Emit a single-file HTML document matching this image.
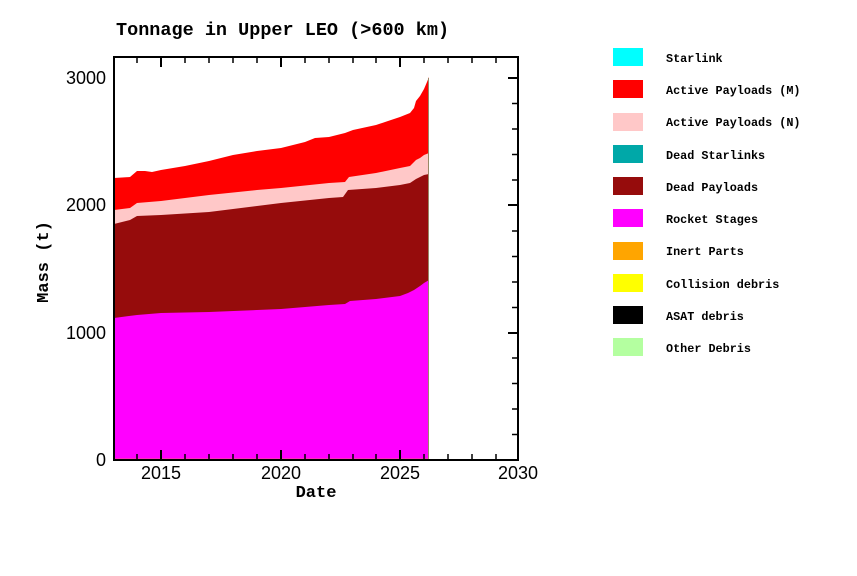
<!DOCTYPE html>
<html><head><meta charset="utf-8"><style>body{margin:0;background:#fff}svg{display:block}</style></head><body>
<svg width="857" height="576" xmlns="http://www.w3.org/2000/svg">
<rect width="857" height="576" fill="#fff"/>
<text x="116" y="35" font-family="Liberation Mono, monospace" font-size="18.5" font-weight="bold">Tonnage in Upper LEO (&gt;600 km)</text>
<polygon fill="#ff0000" points="114,460 114,178 130,177 137,171 145,171 152,172 161,170 185,166 209,161 233,155 257,151 281,148 305,142 315,138 329,137 345,133 353,130 376,125 388,121 400,117 410,113 414,108 416,101 420,96 424,89 427,82 429,77 429,460"/>
<polygon fill="#ffc8c8" points="114,460 114,210 130,208 137,203 161,201 209,195 257,190 281,188 329,183 345,182 349,177 376,173 400,168 410,166 416,160 420,158 424,155 429,153 429,460"/>
<polygon fill="#960c0c" points="114,460 114,224 130,220 137,216 161,215 209,212 257,206 281,203 329,198 343,197 348,190 376,188 400,185 410,183 416,179 420,177 424,175 429,174 429,460"/>
<polygon fill="#ff00ff" points="114,460 114,318 137,315 161,313 209,312 257,310 281,309 305,307 329,305 345,304 350,301 376,299 400,296 408,293 414,290 420,286 424,283 429,280 429,460"/>
<line x1="114" y1="459.5" x2="429" y2="459.5" stroke="#ffa500" stroke-width="1.5"/>
<line x1="428.5" y1="78" x2="428.5" y2="460" stroke="#986" stroke-width="1"/>
<rect x="114" y="57" width="404" height="403" fill="none" stroke="#000" stroke-width="2"/>
<g stroke="#000" stroke-width="2">
<line x1="508" y1="333" x2="518" y2="333"/>
<line x1="508" y1="205" x2="518" y2="205"/>
<line x1="508" y1="78" x2="518" y2="78"/>
</g>
<g stroke="#000" stroke-width="1.5">
<line x1="512" y1="434.5" x2="518" y2="434.5"/><line x1="512" y1="409" x2="518" y2="409"/><line x1="512" y1="383.5" x2="518" y2="383.5"/><line x1="512" y1="358" x2="518" y2="358"/>
<line x1="512" y1="307.5" x2="518" y2="307.5"/><line x1="512" y1="282" x2="518" y2="282"/><line x1="512" y1="256.5" x2="518" y2="256.5"/><line x1="512" y1="231" x2="518" y2="231"/>
<line x1="512" y1="180" x2="518" y2="180"/><line x1="512" y1="154.5" x2="518" y2="154.5"/><line x1="512" y1="129" x2="518" y2="129"/><line x1="512" y1="103.5" x2="518" y2="103.5"/>
</g>
<g stroke="#000" stroke-width="2">
<line x1="161" y1="460" x2="161" y2="450"/><line x1="161" y1="57" x2="161" y2="67"/>
<line x1="281" y1="460" x2="281" y2="450"/><line x1="281" y1="57" x2="281" y2="67"/>
<line x1="400" y1="460" x2="400" y2="450"/><line x1="400" y1="57" x2="400" y2="67"/>
</g>
<g stroke="#000" stroke-width="1.5">
<line x1="137" y1="460" x2="137" y2="454"/><line x1="185" y1="460" x2="185" y2="454"/><line x1="209" y1="460" x2="209" y2="454"/><line x1="233" y1="460" x2="233" y2="454"/><line x1="257" y1="460" x2="257" y2="454"/>
<line x1="305" y1="460" x2="305" y2="454"/><line x1="329" y1="460" x2="329" y2="454"/><line x1="353" y1="460" x2="353" y2="454"/><line x1="376" y1="460" x2="376" y2="454"/>
<line x1="424" y1="460" x2="424" y2="454"/><line x1="448" y1="460" x2="448" y2="454"/><line x1="472" y1="460" x2="472" y2="454"/><line x1="496" y1="460" x2="496" y2="454"/>
<line x1="137" y1="57" x2="137" y2="63"/><line x1="185" y1="57" x2="185" y2="63"/><line x1="209" y1="57" x2="209" y2="63"/><line x1="233" y1="57" x2="233" y2="63"/><line x1="257" y1="57" x2="257" y2="63"/>
<line x1="305" y1="57" x2="305" y2="63"/><line x1="329" y1="57" x2="329" y2="63"/><line x1="353" y1="57" x2="353" y2="63"/><line x1="376" y1="57" x2="376" y2="63"/>
<line x1="424" y1="57" x2="424" y2="63"/><line x1="448" y1="57" x2="448" y2="63"/><line x1="472" y1="57" x2="472" y2="63"/><line x1="496" y1="57" x2="496" y2="63"/>
</g>
<g font-family="Liberation Sans, sans-serif" font-size="18" text-anchor="end">
<text x="106" y="466">0</text><text x="106" y="339">1000</text><text x="106" y="211">2000</text><text x="106" y="84">3000</text>
</g>
<g font-family="Liberation Sans, sans-serif" font-size="18" text-anchor="middle">
<text x="161" y="479">2015</text><text x="281" y="479">2020</text><text x="400" y="479">2025</text><text x="518" y="479">2030</text>
</g>
<text x="316" y="497" font-family="Liberation Mono, monospace" font-size="17" font-weight="bold" text-anchor="middle">Date</text>
<text transform="translate(48,262) rotate(-90)" font-family="Liberation Mono, monospace" font-size="17" font-weight="bold" text-anchor="middle">Mass (t)</text>
<g font-family="Liberation Mono, monospace" font-size="11.8" font-weight="bold">
<rect x="613" y="48" width="30" height="18" fill="#00ffff"/><text x="666" y="62">Starlink</text>
<rect x="613" y="80" width="30" height="18" fill="#ff0000"/><text x="666" y="94">Active Payloads (M)</text>
<rect x="613" y="113" width="30" height="18" fill="#ffc8c8"/><text x="666" y="126">Active Payloads (N)</text>
<rect x="613" y="145" width="30" height="18" fill="#00a8a8"/><text x="666" y="159">Dead Starlinks</text>
<rect x="613" y="177" width="30" height="18" fill="#960c0c"/><text x="666" y="191">Dead Payloads</text>
<rect x="613" y="209" width="30" height="18" fill="#ff00ff"/><text x="666" y="223">Rocket Stages</text>
<rect x="613" y="242" width="30" height="18" fill="#ffa500"/><text x="666" y="255">Inert Parts</text>
<rect x="613" y="274" width="30" height="18" fill="#ffff00"/><text x="666" y="288">Collision debris</text>
<rect x="613" y="306" width="30" height="18" fill="#000000"/><text x="666" y="320">ASAT debris</text>
<rect x="613" y="338" width="30" height="18" fill="#b4ffa0"/><text x="666" y="352">Other Debris</text>
</g>
</svg>
</body></html>
